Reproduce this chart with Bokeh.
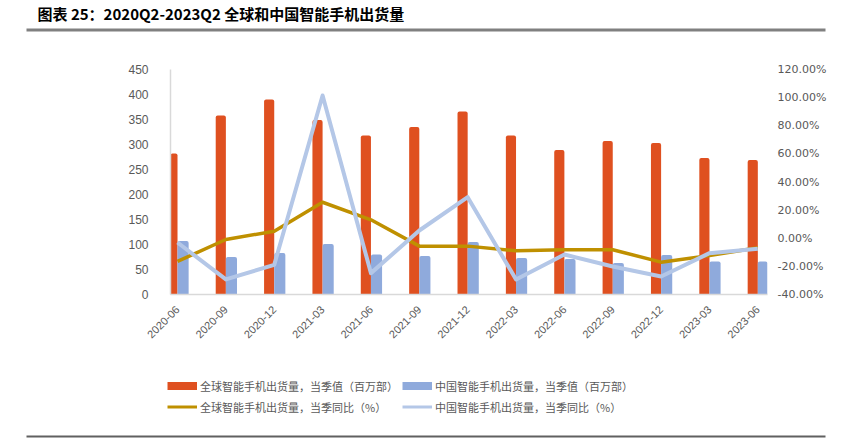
import math
from bokeh.plotting import figure
from bokeh.layouts import column
from bokeh.models import (Range1d, LinearAxis, FixedTicker, NumeralTickFormatter,
                          Legend, LegendItem, Label, BoxAnnotation, ColumnDataSource)
from bokeh.embed import file_html
from bokeh.resources import INLINE

quarters = ["2020-06", "2020-09", "2020-12", "2021-03", "2021-06", "2021-09", "2021-12",
            "2022-03", "2022-06", "2022-09", "2022-12", "2023-03", "2023-06"]
global_ship = [282, 358, 390, 349, 318, 335, 366, 318, 289, 307, 303, 273, 269]
china_ship = [107, 75, 83, 101, 80, 77, 105, 73, 71, 63, 79, 66, 66]
global_yoy = [-0.165, -0.009, 0.050, 0.256, 0.131, -0.056, -0.056, -0.089, -0.082, -0.082, -0.170, -0.123, -0.068]
china_yoy = [-0.030, -0.293, -0.189, 1.015, -0.248, 0.055, 0.292, -0.293, -0.116, -0.201, -0.272, -0.106, -0.075]
left_ticks = [0, 50, 100, 150, 200, 250, 300, 350, 400, 450]
right_ticks = [-0.4, -0.2, 0.0, 0.2, 0.4, 0.6, 0.8, 1.0, 1.2]

title_text = "图表 25：2020Q2-2023Q2 全球和中国智能手机出货量"
legend_labels = ["全球智能手机出货量，当季值（百万部）", "中国智能手机出货量，当季值（百万部）",
                 "全球智能手机出货量，当季同比（%）", "中国智能手机出货量，当季同比（%）"]

ORANGE = "#DF5020"
BLUE = "#8FAADC"
GOLD = "#BF9000"
LBLUE = "#B4C7E7"
GREY = "#595959"
CJK = "Noto Sans CJK SC"
W = 843


def blank(height):
    f = figure(width=W, height=height, output_backend="svg", toolbar_location=None,
               x_range=Range1d(0, W), y_range=Range1d(0, height),
               x_axis_location=None, y_axis_location=None,
               min_border=0, outline_line_color=None, frame_align=False)
    f.grid.visible = False
    return f


# ---------- header ----------
head = blank(40)
head.add_layout(Label(x=37, y=27, x_units="screen", y_units="screen", text=title_text,
                      text_font=CJK, text_font_style="bold", text_font_size="15px",
                      text_color="#000000", text_baseline="middle"))
head.add_layout(BoxAnnotation(left=26, right=825, bottom=9, top=12,
                              left_units="screen", right_units="screen",
                              bottom_units="screen", top_units="screen",
                              fill_color="#808080", fill_alpha=1, line_color=None))

# ---------- main chart ----------
idx = list(range(len(quarters)))
src = ColumnDataSource(dict(
    x=idx,
    xg=[i - 0.105 for i in idx],
    xc=[i + 0.115 for i in idx],
    g=global_ship, c=china_ship, gy=global_yoy, cy=china_yoy,
))

p = figure(width=W, height=320, output_backend="svg", toolbar_location=None,
           x_range=Range1d(-0.145, 12.2), y_range=Range1d(0, 450),
           min_border_left=170, min_border_right=76, min_border_top=29, min_border_bottom=66,
           outline_line_color=None, frame_align=False)
p.extra_y_ranges = {"pct": Range1d(-0.4, 1.2)}
p.grid.visible = False

p.yaxis.ticker = FixedTicker(ticks=left_ticks)
p.yaxis.axis_line_color = "#D9D9D9"
p.yaxis.axis_line_width = 1.5
p.yaxis.major_tick_line_color = None
p.yaxis.minor_tick_line_color = None
p.yaxis.major_label_standoff = 16
p.yaxis.major_label_text_color = GREY
p.yaxis.major_label_text_font = "Liberation Sans"
p.yaxis.major_label_text_font_size = "12px"

p.xaxis.ticker = FixedTicker(ticks=idx)
p.xaxis.major_label_overrides = {i: q for i, q in enumerate(quarters)}
p.xaxis.major_label_orientation = math.pi / 4
p.xaxis.axis_line_color = "#D9D9D9"
p.xaxis.axis_line_width = 1.5
p.xaxis.major_tick_line_color = None
p.xaxis.minor_tick_line_color = None
p.xaxis.major_label_standoff = 7
p.xaxis.major_label_text_color = GREY
p.xaxis.major_label_text_font = "Liberation Sans"
p.xaxis.major_label_text_font_size = "11px"

ry = LinearAxis(y_range_name="pct", ticker=FixedTicker(ticks=right_ticks),
                formatter=NumeralTickFormatter(format="0.00%"))
ry.axis_line_color = None
ry.major_tick_line_color = None
ry.minor_tick_line_color = None
ry.major_label_standoff = 4
ry.major_label_text_color = GREY
ry.major_label_text_font = "DejaVu Sans"
ry.major_label_text_font_size = "11px"
p.add_layout(ry, "right")

p.vbar(x="xg", top="g", width=0.21, source=src, fill_color=ORANGE, line_color=None,
       border_radius=(2, 2, 0, 0))
p.vbar(x="xc", top="c", width=0.23, source=src, fill_color=BLUE, line_color=None,
       border_radius=(2, 2, 0, 0))
p.line(x="x", y="gy", source=src, y_range_name="pct", line_color=GOLD, line_width=3.5,
       line_join="round")
p.line(x="x", y="cy", source=src, y_range_name="pct", line_color=LBLUE, line_width=4,
       line_join="round")

# ---------- footer with legend ----------
foot = blank(84)
proxy = ColumnDataSource(dict(x=[float("nan")], y=[float("nan")]))
r1 = foot.line(x="x", y="y", source=proxy, line_color=ORANGE, line_width=8, line_cap="butt")
r2 = foot.line(x="x", y="y", source=proxy, line_color=BLUE, line_width=8, line_cap="butt")
r3 = foot.line(x="x", y="y", source=proxy, line_color=GOLD, line_width=3)
r4 = foot.line(x="x", y="y", source=proxy, line_color=LBLUE, line_width=3)
legend = Legend(items=[LegendItem(label=legend_labels[0], renderers=[r1]),
                       LegendItem(label=legend_labels[2], renderers=[r3]),
                       LegendItem(label=legend_labels[1], renderers=[r2]),
                       LegendItem(label=legend_labels[3], renderers=[r4])],
                ncols=2, location=(167, 29), padding=0, margin=0, spacing=4,
                glyph_width=30, glyph_height=17, label_height=17, label_standoff=3,
                label_text_font=CJK, label_text_font_size="11px", label_text_color=GREY,
                border_line_color=None, background_fill_alpha=0)
foot.add_layout(legend, "center")
foot.add_layout(BoxAnnotation(left=26, right=825, bottom=7, top=9,
                              left_units="screen", right_units="screen",
                              bottom_units="screen", top_units="screen",
                              fill_color="#606060", fill_alpha=1, line_color=None))

layout = column(head, p, foot, spacing=0)
open("out.html", "w").write(file_html(layout, INLINE))
